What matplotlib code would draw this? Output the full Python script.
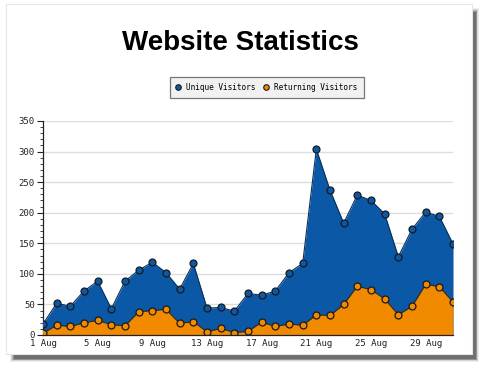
import matplotlib
matplotlib.use("Agg")
import matplotlib.pyplot as plt
from matplotlib.patches import Rectangle
from matplotlib.lines import Line2D
import numpy as np

days = list(range(1, 32))
unique_visitors = [18, 52, 47, 72, 88, 43, 88, 106, 119, 102, 75, 117, 44, 45, 39, 68,
                   65, 72, 102, 117, 304, 237, 183, 229, 220, 198, 128, 173, 201, 194, 149]
returning_visitors = [3, 16, 14, 20, 24, 17, 15, 38, 40, 42, 19, 22, 5, 11, 4, 6,
                      21, 14, 18, 16, 33, 32, 50, 80, 74, 59, 33, 47, 83, 79, 54]
tick_days = [1, 5, 9, 13, 17, 21, 25, 29]
tick_labels = [f"{d} Aug" for d in tick_days]
y_ticks = [0, 50, 100, 150, 200, 250, 300, 350]

W, H = 480, 366
fig = plt.figure(figsize=(W / 100, H / 100), dpi=100)
fig.patch.set_facecolor("white")

def px_rect(x0, y0, x1, y1, **kw):
    return Rectangle((x0 / W, 1 - y1 / H), (x1 - x0) / W, (y1 - y0) / H,
                     transform=fig.transFigure, **kw)

# drop shadow (soft)
for i, a in enumerate([0.08, 0.12, 0.18, 0.26, 0.36]):
    fig.patches.append(px_rect(10 + i, 8 + i, 479 - i * 0.8, 362 - i * 0.8,
                               facecolor="#303030", alpha=a, edgecolor="none", zorder=0))
# panel
fig.patches.append(px_rect(6, 4, 472, 354, facecolor="white", edgecolor="#e6e6e6",
                           linewidth=0.8, zorder=1))

ax = fig.add_axes([43 / W, 1 - 335 / H, (453 - 43) / W, (335 - 121) / H])
ax.set_zorder(2)
ax.patch.set_alpha(0)

blue = "#0b58a6"
orange = "#f28a00"
edge = "#1a1a1a"

ax.fill_between(days, 0, unique_visitors, color=blue, linewidth=0, zorder=2)
ax.plot(days, unique_visitors, color="#0a2f5a", linewidth=0.8, zorder=3)
ax.fill_between(days, 0, returning_visitors, color=orange, linewidth=0, zorder=4)
ax.plot(days, returning_visitors, color="#3a2a10", linewidth=0.8, zorder=5)
ax.plot([31, 31], [0, unique_visitors[-1]], color="#0a2f5a", linewidth=0.8, zorder=5)
ax.plot(days, unique_visitors, linestyle="none", marker="o", markersize=5,
        markerfacecolor=blue, markeredgecolor=edge, markeredgewidth=0.9, zorder=6)
ax.plot(days, returning_visitors, linestyle="none", marker="o", markersize=5,
        markerfacecolor=orange, markeredgecolor=edge, markeredgewidth=0.9, zorder=7)

ax.set_xlim(1, 31)
ax.set_ylim(0, 350)
ax.set_yticks(y_ticks)
ax.set_yticks(np.arange(0, 351, 10), minor=True)
ax.set_xticks(tick_days)
ax.set_xticklabels(tick_labels)
ax.grid(axis="y", which="major", color="#dddddd", linewidth=1.0, zorder=0)
ax.set_axisbelow(True)

for s in ["top", "right"]:
    ax.spines[s].set_visible(False)
ax.spines["left"].set_color("#222222")
ax.spines["bottom"].set_color("#222222")
ax.spines["left"].set_linewidth(0.9)
ax.spines["bottom"].set_linewidth(0.9)
ax.spines["bottom"].set_zorder(8)

ax.tick_params(axis="y", which="major", direction="out", length=4, width=0.8,
               labelsize=6.5, colors="#222222", pad=2)
ax.tick_params(axis="y", which="minor", direction="out", length=2, width=0.6, colors="#222222")
ax.tick_params(axis="x", which="major", direction="in", length=3, width=0.8,
               labelsize=6.5, colors="#222222", pad=3)
for lab in ax.get_xticklabels() + ax.get_yticklabels():
    lab.set_family("DejaVu Sans Mono")

fig.text(240 / W, 1 - 43 / H, "Website Statistics", ha="center", va="center",
         fontsize=20, fontweight="bold", family="Liberation Sans", zorder=5)

handles = [
    Line2D([], [], linestyle="none", marker="o", markersize=4, markerfacecolor=blue,
           markeredgecolor=edge, markeredgewidth=0.8, label="Unique Visitors"),
    Line2D([], [], linestyle="none", marker="o", markersize=4, markerfacecolor=orange,
           markeredgecolor=edge, markeredgewidth=0.8, label="Returning Visitors"),
]
leg = fig.legend(handles=handles, loc="center", bbox_to_anchor=(267 / W, 1 - 87.5 / H),
                 ncol=2, frameon=True, fancybox=False,
                 prop={"family": "DejaVu Sans Mono", "size": 5.6},
                 handletextpad=0.8, columnspacing=1.1, handlelength=0.5,
                 borderpad=0.75, borderaxespad=0)
leg.get_frame().set_facecolor("#eeeeee")
leg.get_frame().set_edgecolor("#555555")
leg.get_frame().set_linewidth(0.9)
leg.set_zorder(9)

fig.savefig("out.png", dpi=100)
